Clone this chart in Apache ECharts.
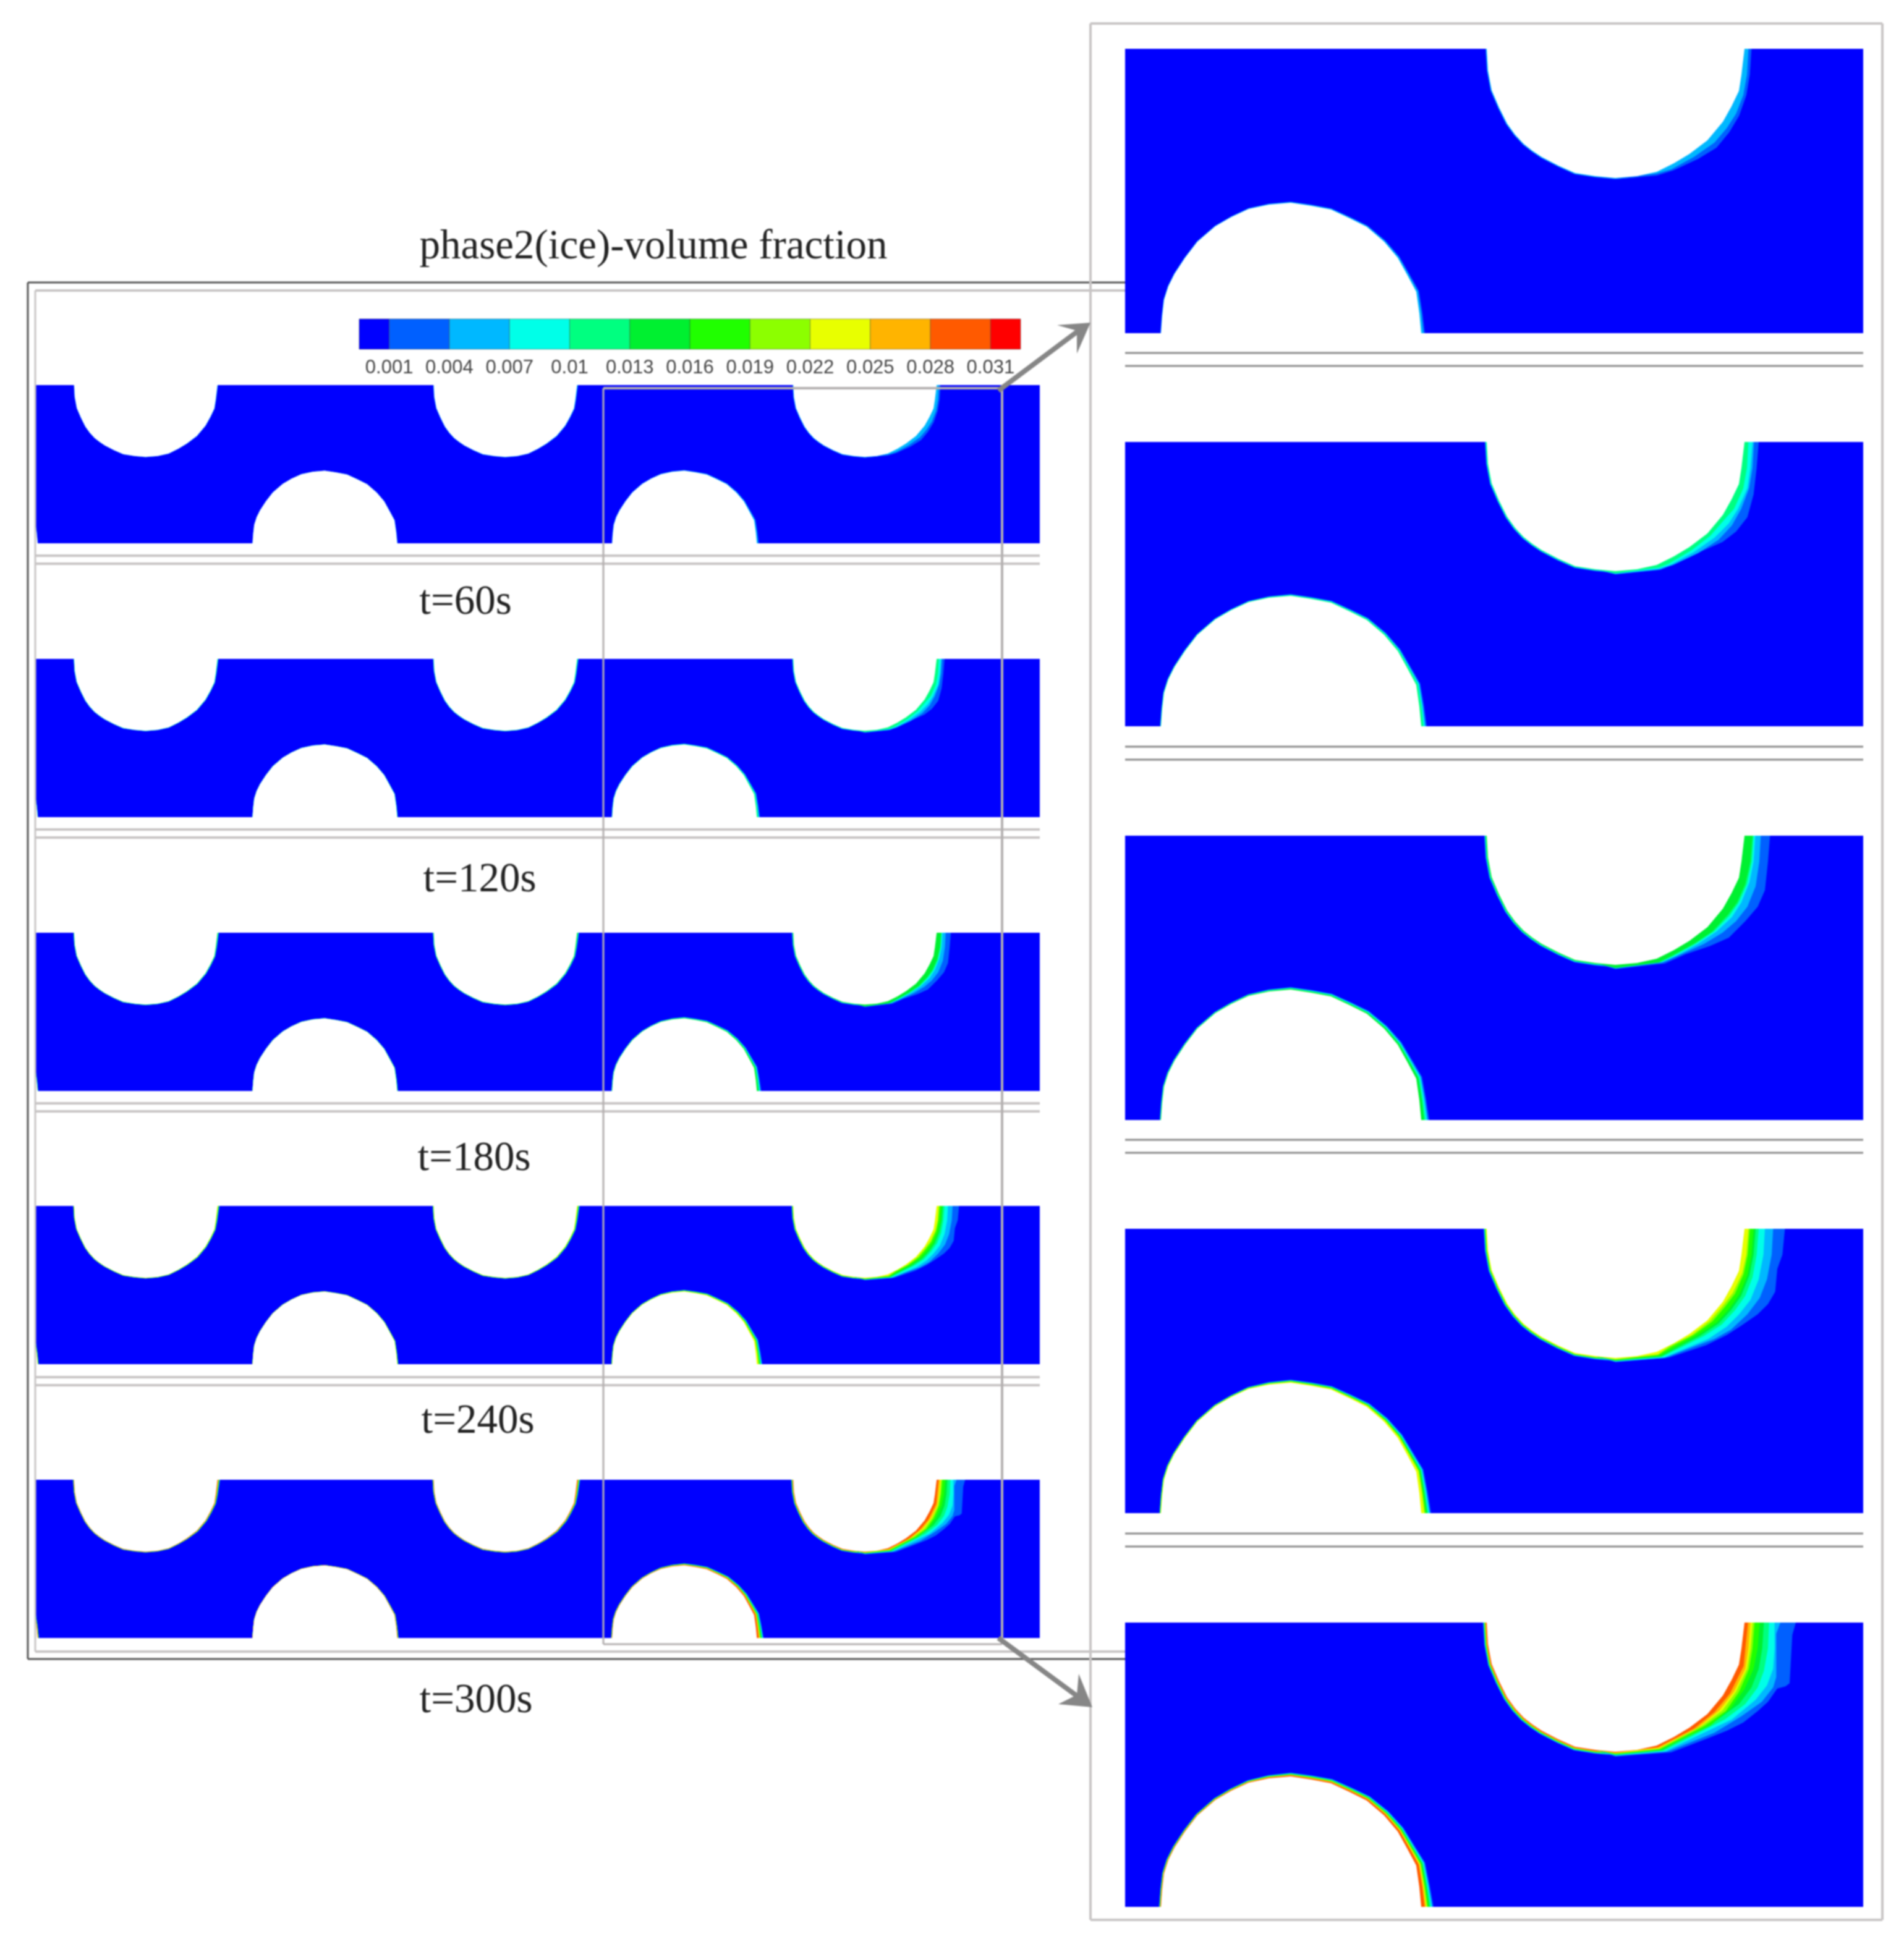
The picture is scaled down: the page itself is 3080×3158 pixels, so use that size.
<!DOCTYPE html>
<html>
<head>
<meta charset="utf-8">
<style>
  html, body { margin: 0; background: #fff; }
  /* the source figure is a soft upscaled bitmap */
  #main { width: 3080px; height: 3158px; filter: blur(0.8px); }
</style>
</head>
<body>
<div id="main"></div>
<script src="https://cdn.jsdelivr.net/npm/echarts@6/dist/echarts.min.js"></script>
<script>
// legend
const levelTicks = [0.001, 0.004, 0.007, 0.01, 0.013, 0.016, 0.019, 0.022, 0.025, 0.028, 0.031];
const levelEdges = [-0.0005, 0.001, 0.004, 0.007, 0.01, 0.013, 0.016, 0.019, 0.022, 0.025, 0.028, 0.031, 0.0325];
const levelColors = ['#0000ff', '#0060ff', '#00b8ff', '#00ffe8', '#00ff80', '#00f030',
  '#20ff00', '#8cff00', '#e8ff00', '#ffb400', '#ff5a00', '#ff0000'];

// time steps, and the highest level each one reaches
const timeLabels = ['t=60s', 't=120s', 't=180s', 't=240s', 't=300s'];
const peakLevel = [2, 4, 5, 8, 10];

// channel outline, in channel units
const channelX = [-20, 2940];
const channelY = [0, 460];
const smallWindowX = [-3, 2919];
const bigWindowX = [1617, 2811];

// hole outlines: offset from hole's left edge, height in the channel
const topHoleDx = [0, 2, 8, 20, 33, 46, 60, 74, 89, 116, 143, 176, 208, 243, 275, 303, 328, 357, 382, 396, 408, 412, 417];
const topHoleY = [460, 425, 393, 365, 339, 321, 306, 295, 285, 271, 259, 254, 251, 254, 261, 275, 290, 312, 342, 367, 392, 418, 460];
const bottomHoleDx = [0, 2, 5, 12, 22, 39, 59, 88, 114, 142, 175, 210, 243, 275, 305, 333, 361, 383, 398, 413, 418, 421];
const bottomHoleY = [0, 28, 54, 76, 96, 122, 148, 173, 188, 201, 208, 211, 206, 200, 186, 172, 148, 122, 95, 67, 32, 0];
const topHoleLeft = [110, 1156, 2202];
const bottomHoleLeft = [-417, 629, 1675];

// ice thickness around each hole per time step (outermost contour)
const topRimHole0 = [0.5, 1, 1.5, 2, 2.5];
const topRimHole1 = [1, 1.5, 2, 2.5, 3];
const topRimHole2 = [2, 3, 4, 5, 6];
const bottomRimHole0 = [0.5, 1, 1.5, 3, 4];
const bottomRimHole1 = [1, 1.5, 2, 3, 4];
const bottomRimHole2 = [6, 9, 13, 16, 20];
// how that thickness varies along the hole outline
const topRimShape = [1.2, 1.2, 1.1, 1, 1, 1, 1, 1, 1, 1, 1, 1, 1, 1, 1, 1.1, 1.3, 1.6, 1.8, 1.9, 2, 2.5, 3];
const bottomRimShape = [0.15, 0.15, 0.15, 0.15, 0.15, 0.15, 0.15, 0.17, 0.18, 0.2, 0.25, 0.3, 0.33, 0.35, 0.38, 0.42, 0.48, 0.55, 0.62, 0.75, 0.85, 1];

// contours on the right side of the last top hole, per level
// at 3x: [x, y] in thirds of a channel unit
const contours60 = {
  1: [[820, 75], [812, 200], [795, 300], [760, 400], [712, 480], [650, 555], [560, 610], [440, 665], [360, 690], [160, 708]],
  2: [[805, 75], [798, 200], [780, 300], [745, 390], [700, 460], [640, 530], [540, 600], [430, 660], [360, 680], [160, 705]]
};
const contours120 = {
  1: [[855, 75], [845, 200], [830, 330], [800, 440], [745, 510], [680, 560], [590, 600], [480, 650], [380, 695], [160, 718]],
  2: [[832, 75], [825, 200], [808, 300], [770, 400], [725, 480], [660, 550], [560, 615], [440, 672], [370, 695], [160, 716]],
  3: [[825, 75], [815, 200], [800, 300], [755, 400], [710, 470], [640, 540], [540, 610], [430, 670], [370, 690], [160, 714]],
  4: [[805, 75], [798, 200], [780, 300], [735, 400], [690, 450], [620, 530], [530, 600], [420, 665], [370, 685], [160, 712]]
};
const contours180 = {
  1: [[910, 75], [900, 200], [885, 340], [850, 420], [790, 490], [710, 570], [620, 610], [500, 650], [400, 695], [160, 722]],
  2: [[865, 75], [858, 200], [840, 320], [800, 420], [745, 490], [680, 545], [590, 600], [480, 650], [390, 690], [160, 720]],
  3: [[838, 75], [830, 200], [810, 300], [770, 400], [725, 470], [650, 540], [560, 600], [450, 660], [380, 690], [160, 718]],
  4: [[830, 75], [822, 200], [798, 310], [758, 400], [712, 465], [638, 540], [548, 600], [438, 660], [375, 690], [160, 717]],
  5: [[825, 75], [815, 200], [790, 310], [750, 400], [705, 460], [630, 540], [540, 600], [430, 660], [370, 690], [160, 716]]
};
const contours240 = {
  1: [[982, 75], [970, 200], [945, 270], [935, 380], [900, 440], [850, 490], [770, 545], [700, 590], [600, 640], [420, 700], [160, 722]],
  2: [[925, 75], [918, 200], [895, 320], [860, 410], [800, 490], [720, 565], [640, 610], [520, 655], [400, 702], [160, 720]],
  3: [[885, 75], [878, 200], [855, 320], [815, 420], [760, 490], [700, 550], [610, 610], [490, 660], [395, 700], [160, 718]],
  4: [[855, 75], [845, 200], [825, 310], [790, 400], [740, 470], [675, 540], [590, 595], [470, 655], [385, 697], [160, 716]],
  5: [[840, 75], [830, 200], [810, 300], [770, 400], [720, 470], [660, 535], [570, 595], [460, 652], [380, 695], [160, 714]],
  6: [[830, 75], [820, 200], [800, 300], [760, 395], [710, 465], [650, 530], [560, 590], [450, 650], [375, 692], [160, 712]],
  7: [[812, 75], [802, 200], [782, 295], [740, 390], [690, 455], [630, 525], [540, 590], [430, 648], [368, 688], [160, 710]],
  8: [[805, 75], [795, 200], [775, 290], [730, 385], [680, 450], [620, 520], [530, 590], [420, 645], [365, 685], [160, 708]]
};
const contours300 = {
  1: [[1035, 75], [1018, 135], [1005, 370], [985, 385], [945, 395], [900, 460], [850, 505], [780, 560], [700, 600], [600, 640], [430, 705], [160, 725]],
  2: [[960, 75], [940, 130], [940, 340], [925, 390], [870, 460], [770, 530], [640, 610], [410, 702], [160, 722]],
  3: [[932, 75], [932, 200], [925, 300], [895, 380], [840, 450], [725, 545], [400, 700], [160, 720]],
  4: [[905, 75], [900, 200], [880, 310], [850, 390], [790, 470], [690, 545], [395, 697], [160, 718]],
  5: [[880, 75], [872, 200], [855, 300], [820, 390], [760, 470], [650, 550], [385, 695], [160, 716]],
  6: [[860, 75], [850, 200], [830, 300], [785, 400], [720, 490], [620, 575], [380, 692], [160, 714]],
  7: [[835, 75], [825, 200], [808, 300], [760, 410], [695, 505], [595, 575], [375, 690], [160, 712]],
  8: [[825, 75], [815, 200], [798, 300], [745, 410], [680, 500], [580, 575], [370, 688], [160, 710]],
  9: [[815, 75], [805, 200], [790, 300], [735, 410], [665, 500], [560, 585], [370, 684], [160, 708]],
  10: [[803, 75], [790, 200], [782, 285], [715, 420], [640, 510], [540, 590], [365, 680], [160, 706]]
};
const contoursByTime = [contours60, contours120, contours180, contours240, contours300];

const SERIF = '"Liberation Serif", "Times New Roman", serif';
const GRAY_LIGHT = '#c8c5c5';
const GRAY_DARK = '#555';

const smallTops = [623, 1066, 1509, 1951, 2394];
const bigTops = [79, 715, 1352, 1988, 2625];

// ---- polygons in channel units ----

// radial push from the hole centre, centre sits on the channel wall
function rimPolygon(left, dxs, ys, wallY, thick, shape, frac) {
  const cx = left + 210;
  return dxs.map((dx, i) => {
    const x = left + dx, y = ys[i];
    const r = Math.hypot(x - cx, y - wallY);
    const d = thick * shape[i] * frac;
    return [x + (x - cx) / r * d, y + (y - wallY) / r * d];
  });
}

function holePolygon(left, dxs, ys) {
  return dxs.map((dx, i) => [left + dx, ys[i]]);
}

function fromReading(p) {
  return [topHoleLeft[2] + 155 + p[0] / 3, 485 - p[1] / 3];
}

function buildPolygons(t) {
  const polys = [];
  polys.push({
    color: levelColors[0],
    pts: [[channelX[0], channelY[0]], [channelX[1], channelY[0]], [channelX[1], channelY[1]], [channelX[0], channelY[1]]]
  });
  const peak = peakLevel[t];
  for (let lv = 1; lv <= peak; lv++) {
    // the hottest band keeps about a quarter of the rim
    const frac = 1 - (lv - 1) / peak * 0.8;
    const rims = [
      [bottomHoleLeft[0], bottomHoleDx, bottomHoleY, 0, bottomRimHole0[t], bottomRimShape],
      [bottomHoleLeft[1], bottomHoleDx, bottomHoleY, 0, bottomRimHole1[t], bottomRimShape],
      [bottomHoleLeft[2], bottomHoleDx, bottomHoleY, 0, bottomRimHole2[t], bottomRimShape],
      [topHoleLeft[0], topHoleDx, topHoleY, 460, topRimHole0[t], topRimShape],
      [topHoleLeft[1], topHoleDx, topHoleY, 460, topRimHole1[t], topRimShape],
      [topHoleLeft[2], topHoleDx, topHoleY, 460, topRimHole2[t], topHoleDx.map(() => 1)]
    ];
    rims.forEach(r => {
      polys.push({ color: levelColors[lv], pts: rimPolygon(r[0], r[1], r[2], r[3], r[4], r[5], frac) });
    });
  }
  // thick part of the ice, tapered into the rim and closed through the hole centre,
  // the white hole covers the inner part
  const cs = contoursByTime[t];
  for (let lv = 1; lv <= peak; lv++) {
    if (!cs[lv]) continue;
    const pts = cs[lv].map(fromReading);
    pts.push(fromReading([70, 695]));
    pts.push(fromReading([160, 75]));
    polys.push({ color: levelColors[lv], pts: pts });
  }
  topHoleLeft.forEach(l => polys.push({ color: '#fff', pts: holePolygon(l, topHoleDx, topHoleY) }));
  bottomHoleLeft.forEach(l => polys.push({ color: '#fff', pts: holePolygon(l, bottomHoleDx, bottomHoleY) }));
  return polys;
}

const polygonsByTime = timeLabels.map((_, t) => buildPolygons(t));

// ---- grids / axes / series ----
const grids = [], xAxes = [], yAxes = [], series = [];

function addPanel(t, left, top, width, height, xRange) {
  const idx = grids.length;
  grids.push({ left: left, top: top, width: width, height: height, containLabel: false });
  xAxes.push({ type: 'value', gridIndex: idx, min: xRange[0], max: xRange[1], show: false });
  yAxes.push({ type: 'value', gridIndex: idx, min: channelY[0], max: channelY[1], show: false });
  const polys = polygonsByTime[t];
  series.push({
    type: 'custom',
    xAxisIndex: idx,
    yAxisIndex: idx,
    clip: true,
    silent: true,
    animation: false,
    data: polys.map((p, i) => [i]),
    renderItem: function (params, api) {
      const p = polys[params.dataIndex];
      return {
        type: 'polygon',
        shape: { points: p.pts.map(q => api.coord(q)) },
        style: { fill: p.color, stroke: null }
      };
    }
  });
}

timeLabels.forEach((_, t) => {
  addPanel(t, 57, smallTops[t], 1625, 256, smallWindowX);
  addPanel(t, 1820, bigTops[t], 1194, 460, bigWindowX);
});

// colour legend
const legendIdx = grids.length;
grids.push({ left: 581, top: 516, width: 1070, height: 49 });
xAxes.push({
  type: 'value',
  gridIndex: legendIdx,
  min: levelEdges[0],
  max: levelEdges[levelEdges.length - 1],
  splitLine: { show: false },
  axisLine: { show: false },
  axisTick: { show: false },
  axisLabel: {
    customValues: levelTicks,
    formatter: v => String(v),
    fontFamily: '"Liberation Sans", Arial, sans-serif',
    fontSize: 31,
    color: '#444',
    margin: 15,
    hideOverlap: false
  }
});
yAxes.push({ type: 'value', gridIndex: legendIdx, min: 0, max: 1, show: false });
series.push({
  type: 'custom',
  xAxisIndex: legendIdx,
  yAxisIndex: legendIdx,
  silent: true,
  animation: false,
  data: levelColors.map((c, i) => [levelEdges[i], levelEdges[i + 1]]),
  renderItem: function (params, api) {
    const a = api.coord([api.value(0), 0]);
    const b = api.coord([api.value(1), 1]);
    return {
      type: 'rect',
      shape: { x: a[0], y: b[1], width: b[0] - a[0], height: a[1] - b[1] },
      style: { fill: levelColors[params.dataIndex], stroke: 'rgba(60,60,60,0.45)', lineWidth: 1 }
    };
  }
});

// ---- frames, arrows ----
const graphics = [];

function line(x1, y1, x2, y2, color, w) {
  graphics.push({
    type: 'line', z: 100, silent: true,
    shape: { x1: x1, y1: y1, x2: x2, y2: y2 },
    style: { stroke: color, lineWidth: w }
  });
}

// outer dark frame
line(45, 457, 1820, 457, GRAY_DARK, 3);
line(45, 2684, 1820, 2684, GRAY_DARK, 3);
line(45, 457, 45, 2684, GRAY_DARK, 3);
// panel frames
const panelLineTops = [470, 912, 1355, 1798, 2241];
const panelLineBottoms = [899, 1342, 1785, 2228, 2672];
line(57, 470, 57, 2672, GRAY_LIGHT, 3);
panelLineTops.forEach((y, i) => line(57, y, i === 0 ? 1820 : 1682, y, GRAY_LIGHT, 4));
panelLineBottoms.forEach((y, i) => line(57, y, i === 4 ? 1820 : 1682, y, GRAY_LIGHT, 4));
// right frame
line(1764, 38, 3045, 38, GRAY_LIGHT, 4);
line(1764, 3106, 3045, 3106, GRAY_LIGHT, 4);
line(1764, 38, 1764, 3106, GRAY_LIGHT, 4);
line(3045, 38, 3045, 3106, GRAY_LIGHT, 4);
// separators under the big panels
[571, 1208, 1844, 2481].forEach(y => {
  line(1820, y, 3014, y, '#8a8a8a', 3);
  line(1820, y + 21, 3014, y + 21, '#8a8a8a', 3);
});
// zoom window
line(976, 628, 1621, 628, '#b4b0b0', 4);
line(976, 2660, 1621, 2660, '#b4b0b0', 3);
line(976, 628, 976, 2660, '#b4b0b0', 3);
line(1621, 628, 1621, 2660, '#b4b0b0', 4);
// arrows
line(1615, 632, 1750, 531, '#868686', 8);
graphics.push({ type: 'polygon', z: 101, silent: true,
  shape: { points: [[1764, 522], [1710, 526], [1742, 535], [1742, 572]] }, style: { fill: '#868686' } });
line(1615, 2650, 1752, 2751, '#868686', 8);
graphics.push({ type: 'polygon', z: 101, silent: true,
  shape: { points: [[1767, 2762], [1712, 2757], [1742, 2742], [1745, 2708]] }, style: { fill: '#868686' } });

// ---- texts ----
const titles = [{
  text: 'phase2(ice)-volume fraction',
  left: 1052, top: 362, textAlign: 'center',
  textStyle: { fontFamily: SERIF, fontSize: 67, fontWeight: 'normal', color: '#222' }
}];
const labelCenterX = [748, 771, 762, 768, 765];
const labelTop = [937, 1386, 1837, 2262, 2714];
timeLabels.forEach((s, i) => titles.push({
  text: s,
  left: labelCenterX[i], top: labelTop[i], textAlign: 'center',
  textStyle: { fontFamily: SERIF, fontSize: 67, fontWeight: 'normal', color: '#222' }
}));

const myChart = echarts.init(document.getElementById('main'));
myChart.setOption({
  animation: false,
  backgroundColor: '#fff',
  title: titles,
  grid: grids,
  xAxis: xAxes,
  yAxis: yAxes,
  series: series,
  graphic: graphics
});
</script>
</body>
</html>
